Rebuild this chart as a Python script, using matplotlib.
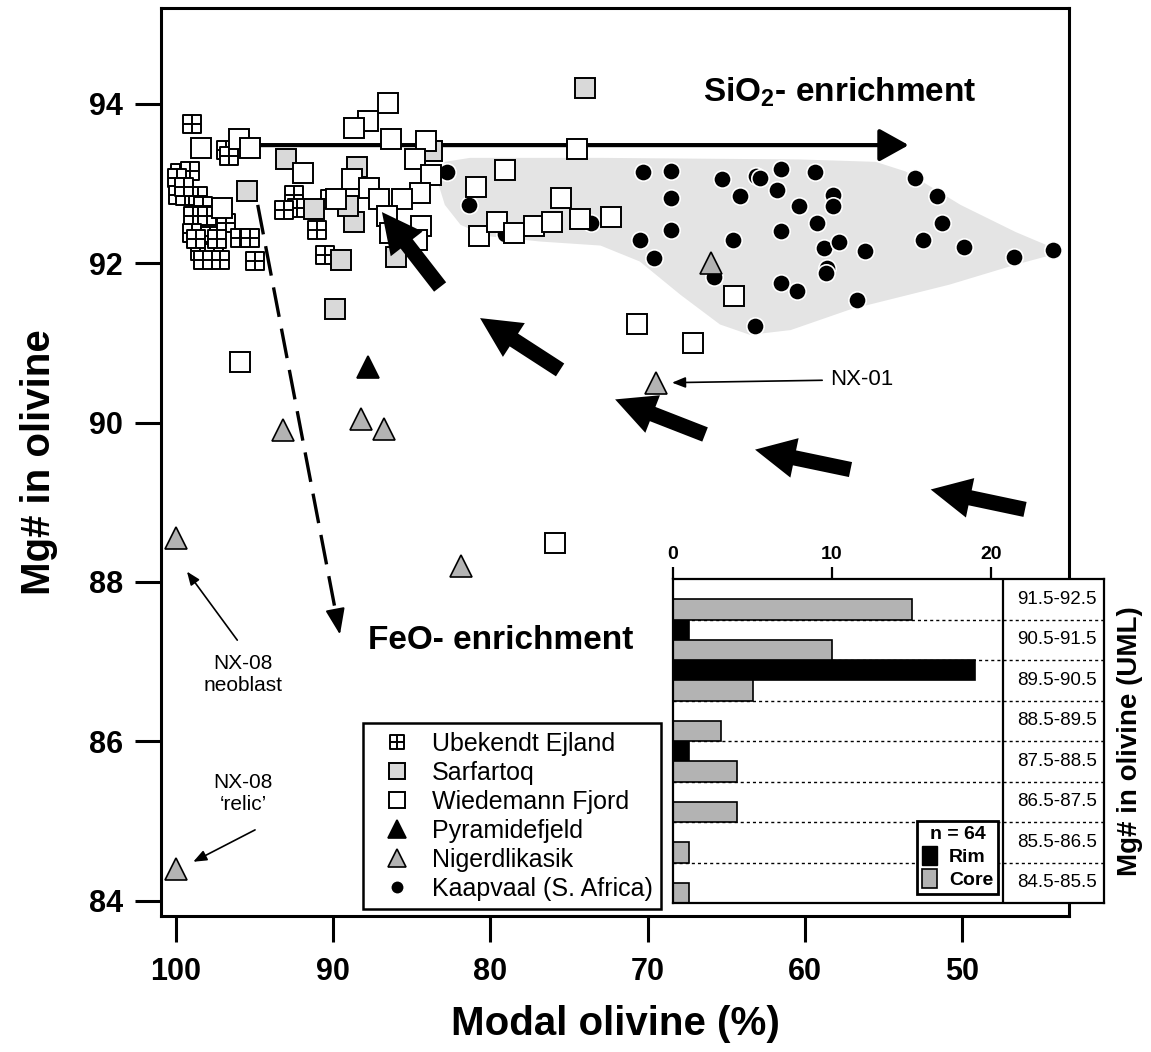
import numpy as np
import matplotlib
matplotlib.use("Agg")
import matplotlib.pyplot as plt
from matplotlib.path import Path
from matplotlib.patches import Polygon, Patch

plt.rcParams['font.family'] = ['Liberation Sans', 'DejaVu Sans']
plt.rcParams['mathtext.fontset'] = 'custom'
plt.rcParams['mathtext.rm'] = 'Liberation Sans'
plt.rcParams['mathtext.bf'] = 'Liberation Sans:bold'

# --- modal olivine (%) / Mg# for each locality ---
ubekendt_x = [99.0, 96.8, 96.6, 99.75, 99.1, 99.95, 99.9, 99.4, 98.6, 98.25, 98.9, 98.05,
              99.0, 97.85, 96.8, 95.9, 95.3, 98.5, 97.6, 97.2, 98.25, 95.0, 92.5, 92.3,
              91.05, 90.5, 93.1, 90.2, 99.5, 97.4, 98.7]
ubekendt_y = [93.74, 93.42, 93.34, 93.13, 93.15, 93.07, 92.86, 92.84, 92.84, 92.71, 92.59, 92.59,
              92.38, 92.34, 92.5, 92.31, 92.31, 92.15, 92.13, 92.04, 92.04, 92.02, 92.86, 92.69,
              92.42, 92.1, 92.67, 92.8, 92.95, 92.3, 92.3]

sarfartoq_x = [95.5, 93.0, 88.5, 91.2, 88.7, 89.5, 86.0, 89.9, 83.7, 89.05, 74.0]
sarfartoq_y = [92.9, 93.3, 93.21, 92.68, 92.52, 92.04, 92.08, 91.42, 93.4, 92.71, 94.2]

wiedemann_x = [96.0, 98.4, 95.3, 97.1, 91.9, 89.8, 86.5, 87.8, 88.7, 86.3, 84.1, 84.8,
               88.8, 87.7, 83.8, 84.5, 85.6, 87.1, 86.6, 84.4, 84.7, 86.4,
               74.5, 79.1, 80.9, 80.7, 79.6, 78.5, 77.2, 76.1, 75.5, 74.3, 72.3,
               70.7, 67.1, 64.5, 95.9, 75.9]
wiedemann_y = [93.56, 93.44, 93.44, 92.69, 93.13, 92.8, 94.01, 93.78, 93.7, 93.56, 93.53, 93.3,
               93.05, 92.94, 93.11, 92.88, 92.8, 92.8, 92.59, 92.46, 92.29, 92.38,
               93.43, 93.17, 92.96, 92.34, 92.52, 92.38, 92.47, 92.52, 92.82, 92.55, 92.58,
               91.23, 91.0, 91.59, 90.76, 88.49]

pyramide_x = [87.8]
pyramide_y = [90.7]

nigerd_x = [100.0, 100.0, 93.2, 88.2, 86.8, 81.9, 69.5, 66.0]
nigerd_y = [88.55, 84.4, 89.9, 90.05, 89.92, 88.2, 90.5, 92.0]

kaapvaal_x = [82.75, 81.35, 79.1, 73.6, 70.3, 68.5, 68.5, 68.5, 70.5, 69.6, 65.3, 64.1,
              64.6, 65.8, 63.1, 63.2, 62.85, 61.5, 61.8, 59.35, 60.4, 58.2, 58.2, 59.2,
              61.5, 58.8, 57.8, 56.2, 58.6, 58.65, 61.5, 60.5, 56.7, 53.0, 51.6, 51.3,
              52.5, 49.9, 46.7, 44.2]
kaapvaal_y = [93.14, 92.73, 92.36, 92.5, 93.14, 93.15, 92.82, 92.41, 92.29, 92.06, 93.05, 92.84,
              92.29, 91.83, 93.09, 91.21, 93.07, 93.18, 92.92, 93.14, 92.72, 92.85, 92.71, 92.5,
              92.4, 92.19, 92.27, 92.15, 91.94, 91.88, 91.75, 91.65, 91.54, 93.07, 92.84, 92.5,
              92.29, 92.2, 92.08, 92.16]

# outline of the Kaapvaal field
kaapvaal_field = [(82.9, 93.27), (83.4, 93.05), (82.9, 92.73), (81.9, 92.48), (80.3, 92.34),
                  (76.8, 92.27), (73.0, 92.22), (70.5, 92.02), (67.9, 91.6), (65.4, 91.23),
                  (63.5, 91.1), (60.9, 91.16), (57.1, 91.42), (50.8, 91.73), (46.6, 91.98),
                  (43.6, 92.14), (46.6, 92.39), (50.1, 92.73), (53.6, 93.15), (55.5, 93.27),
                  (60.3, 93.3), (73.0, 93.32), (81.3, 93.32)]

# melt-rock reaction arrows (tail -> head)
feo_tails = [(83.2, 91.70), (75.57, 90.66), (66.35, 89.85), (57.1, 89.41), (46.0, 88.91)]
feo_heads = [(86.9, 92.64), (80.66, 91.31), (72.07, 90.29), (63.17, 89.66), (52.0, 89.16)]

# histogram of olivine Mg# (UML)
mg_bins = ['91.5-92.5', '90.5-91.5', '89.5-90.5', '88.5-89.5',
           '87.5-88.5', '86.5-87.5', '85.5-86.5', '84.5-85.5']
rim_counts = [0, 1, 19, 0, 1, 0, 0, 0]
core_counts = [15, 10, 5, 3, 4, 4, 1, 1]

# square with a cross for Ubekendt Ejland
grid_marker = Path([(-1, -1), (1, -1), (1, 1), (-1, 1), (-1, -1), (0, -1), (0, 1), (-1, 0), (1, 0)],
                   [Path.MOVETO, Path.LINETO, Path.LINETO, Path.LINETO, Path.CLOSEPOLY,
                    Path.MOVETO, Path.LINETO, Path.MOVETO, Path.LINETO])

fig = plt.figure(figsize=(11.51, 10.52), dpi=100)
ax = fig.add_axes([0.1399, 0.1293, 0.7889, 0.8631])

ax.add_patch(Polygon(kaapvaal_field, closed=True, fc='#e4e4e4', ec='none', zorder=1))

ax.annotate('', xy=(53.4, 93.48), xytext=(94.66, 93.48),
            arrowprops=dict(arrowstyle='-|>,head_length=0.9,head_width=0.5', mutation_scale=20,
                            lw=3, color='k', shrinkA=0, shrinkB=0), zorder=2)

ax.plot(kaapvaal_x, kaapvaal_y, ls='none', marker='o', ms=12.5, mfc='k', mec='white', mew=1.2,
        zorder=3, label='Kaapvaal (S. Africa)')
ax.plot(ubekendt_x, ubekendt_y, ls='none', marker=grid_marker, ms=13.5, mfc='white', mec='k',
        mew=1.4, zorder=4, label='Ubekendt Ejland')
ax.plot(sarfartoq_x, sarfartoq_y, ls='none', marker='s', ms=14, mfc='#d9d9d9', mec='k',
        mew=1.4, zorder=4, label='Sarfartoq')
ax.plot(wiedemann_x, wiedemann_y, ls='none', marker='s', ms=14, mfc='white', mec='k',
        mew=1.4, zorder=4, label='Wiedemann Fjord')
ax.plot(pyramide_x, pyramide_y, ls='none', marker='^', ms=16, mfc='k', mec='k',
        mew=1.2, zorder=5, label='Pyramidefjeld')
ax.plot(nigerd_x, nigerd_y, ls='none', marker='^', ms=16, mfc='#b3b3b3', mec='k',
        mew=1.2, zorder=5, label='Nigerdlikasik')

for (tx, ty), (hx, hy) in zip(feo_tails, feo_heads):
    ax.annotate('', xy=(hx, hy), xytext=(tx, ty),
                arrowprops=dict(arrowstyle='simple,head_length=2.9,head_width=2.9,tail_width=1.1',
                                mutation_scale=10, fc='k', ec='none', shrinkA=0, shrinkB=0),
                zorder=6)

# dashed trend towards FeO enrichment
ax.plot([94.8, 89.83], [92.73, 87.61], ls=(0, (9, 3.6)), lw=2.4, color='k', zorder=6)
ax.annotate('', xy=(89.57, 87.34), xytext=(89.83, 87.61),
            arrowprops=dict(arrowstyle='-|>,head_length=0.4,head_width=0.15', mutation_scale=40,
                            lw=1.5, color='k', shrinkA=0, shrinkB=0), zorder=6)

ax.text(66.5, 94.15, r'SiO$_\mathbf{2}$- enrichment', fontsize=24, fontweight='bold',
        ha='left', va='center')
ax.text(87.8, 87.27, 'FeO- enrichment', fontsize=24, fontweight='bold', ha='left', va='center')

ax.text(58.4, 90.54, 'NX-01', fontsize=16, ha='left', va='center')
ax.annotate('', xy=(68.45, 90.5), xytext=(58.9, 90.53),
            arrowprops=dict(arrowstyle='-|>,head_length=0.5,head_width=0.2', mutation_scale=16,
                            lw=1.2, color='k', shrinkA=0, shrinkB=0))
ax.text(95.74, 86.84, 'NX-08\nneoblast', fontsize=15, ha='center', va='center', linespacing=1.2)
ax.annotate('', xy=(99.3, 88.13), xytext=(96.1, 87.27),
            arrowprops=dict(arrowstyle='-|>,head_length=0.5,head_width=0.2', mutation_scale=16,
                            lw=1.2, color='k', shrinkA=0, shrinkB=0))
ax.text(95.74, 85.35, 'NX-08\n\u2018relic\u2019', fontsize=15, ha='center', va='center',
        linespacing=1.2)
ax.annotate('', xy=(98.9, 84.49), xytext=(94.97, 84.89),
            arrowprops=dict(arrowstyle='-|>,head_length=0.5,head_width=0.2', mutation_scale=16,
                            lw=1.2, color='k', shrinkA=0, shrinkB=0))

ax.set_xlim(100.95, 43.2)
ax.set_ylim(83.81, 95.2)
ax.set_xticks([100, 90, 80, 70, 60, 50])
ax.set_yticks([84, 86, 88, 90, 92, 94])
ax.tick_params(labelsize=22, width=2.2, length=18.5)
ax.tick_params(axis='x', pad=11)
ax.tick_params(axis='y', pad=9)
for lbl in ax.get_xticklabels() + ax.get_yticklabels():
    lbl.set_fontweight('bold')
for sp in ax.spines.values():
    sp.set_linewidth(2.2)
ax.set_xlabel('Modal olivine (%)', fontsize=29, fontweight='bold', labelpad=13)
ax.set_ylabel('Mg# in olivine', fontsize=29, fontweight='bold', labelpad=22)

handles, labels = ax.get_legend_handles_labels()
order = ['Ubekendt Ejland', 'Sarfartoq', 'Wiedemann Fjord', 'Pyramidefjeld',
         'Nigerdlikasik', 'Kaapvaal (S. Africa)']
hmap = dict(zip(labels, handles))
leg = ax.legend([hmap[k] for k in order], order, loc='upper left',
                bbox_to_anchor=(0.2225, 0.2126), fontsize=18, markerscale=0.78,
                fancybox=False, edgecolor='k', framealpha=1, borderpad=0.35,
                handlelength=2.0, handletextpad=0.4, labelspacing=0.2, borderaxespad=0)
leg.get_frame().set_linewidth(1.8)
leg.set_zorder(10)

# inset histogram
ax2 = fig.add_axes([673 / 1151, 1 - 903 / 1052, 431 / 1151, 324 / 1052])
centers = np.array([float(b.split('-')[0]) + 0.5 for b in mg_bins])
ax2.hlines(centers[:-1] - 0.5, 0, 27.1, colors='k', linestyles=(0, (2.2, 2.2)), lw=1, zorder=1)
ax2.barh(centers + 0.25, rim_counts, height=0.5, color='k', edgecolor='k', lw=1.2,
         label='Rim', zorder=2)
ax2.barh(centers - 0.25, core_counts, height=0.5, color='#b3b3b3', edgecolor='k', lw=1.2,
         label='Core', zorder=2)
ax2.axvline(20.75, color='k', lw=1.6, zorder=3)
for c, b in zip(centers, mg_bins):
    ax2.text(24.15, c, b, fontsize=13.5, ha='center', va='center')
ax2.set_xlim(0, 27.1)
ax2.set_ylim(84.5, 92.5)
ax2.xaxis.tick_top()
ax2.set_xticks([0, 10, 20])
ax2.set_yticks([])
ax2.tick_params(axis='x', labelsize=14, width=1.6, length=8.5, pad=3)
for lbl in ax2.get_xticklabels():
    lbl.set_fontweight('bold')
for sp in ax2.spines.values():
    sp.set_linewidth(1.6)
leg2 = ax2.legend(handles=[Patch(fc='k', ec='k'), Patch(fc='#b3b3b3', ec='k', lw=1.2)],
                  labels=['Rim', 'Core'], title='n = 64', loc='lower left',
                  bbox_to_anchor=(0.566, 0.028), fancybox=False, edgecolor='k', framealpha=1,
                  prop={'size': 14, 'weight': 'bold'},
                  title_fontproperties={'size': 14, 'weight': 'bold'},
                  handlelength=0.8, handleheight=1.1, handletextpad=0.6, borderpad=0.25,
                  labelspacing=0.15, borderaxespad=0)
leg2.get_frame().set_linewidth(2)
fig.text(1130 / 1151, 1 - 741 / 1052, 'Mg# in olivine (UML)', rotation=90, fontsize=20,
         fontweight='bold', ha='center', va='center')

fig.savefig('out.png', dpi=100)
